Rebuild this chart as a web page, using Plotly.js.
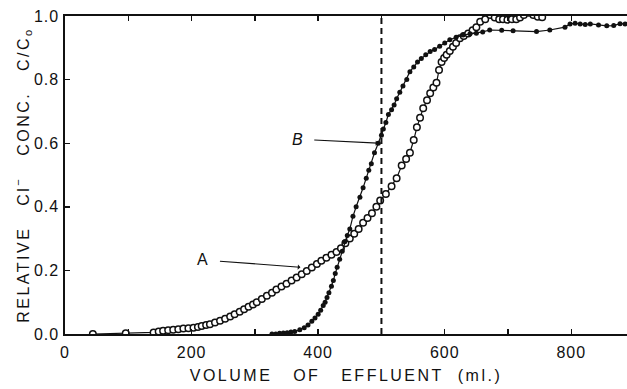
<!DOCTYPE html>
<html>
<head>
<meta charset="utf-8">
<script src="https://cdn.plot.ly/plotly-3.0.1.min.js"></script>
<style>
  html, body { margin: 0; padding: 0; background: #fff; }
  #chart { width: 627px; height: 389px; }
  .xtitle, .ytitle { letter-spacing: 2.5px; }
  .xtick text, .ytick text { letter-spacing: 1px; }
</style>
</head>
<body>
<div id="chart"></div>
<script>
// Breakthrough curves: relative chloride concentration vs. effluent volume
// Curve A (open circles)
const volA = [44, 96, 140, 148, 155, 163, 171, 179, 187, 195, 203, 210, 216, 223, 229, 237, 245, 253,
  261, 268, 276, 283, 290, 297, 303, 311, 319, 327, 334, 342, 350, 358, 366, 374, 382, 390, 398, 405,
  413, 421, 429, 436, 443, 450, 457, 464, 471, 478, 485, 492, 498, 507, 516, 524, 532, 539, 545, 551,
  556, 561, 566, 572, 577, 582, 587, 591, 595, 599, 603, 608, 613, 618, 624, 630, 637, 644, 650, 656,
  664, 672, 679, 686, 692, 699, 706, 713, 719, 725, 733, 740, 747, 754];
const concA = [0.0, 0.002, 0.005, 0.008, 0.01, 0.012, 0.013, 0.015, 0.017, 0.018, 0.02, 0.022, 0.025, 0.028,
  0.031, 0.036, 0.042, 0.048, 0.055, 0.062, 0.07, 0.078, 0.086, 0.093, 0.10, 0.11, 0.12, 0.13, 0.14,
  0.149, 0.158, 0.168, 0.178, 0.188, 0.198, 0.209, 0.22, 0.23, 0.24, 0.249, 0.258, 0.27, 0.285, 0.30,
  0.315, 0.33, 0.35, 0.365, 0.38, 0.40, 0.42, 0.44, 0.465, 0.49, 0.53, 0.55, 0.57, 0.61, 0.65, 0.68,
  0.71, 0.735, 0.757, 0.775, 0.79, 0.83, 0.855, 0.868, 0.878, 0.89, 0.903, 0.915, 0.93, 0.937, 0.945,
  0.955, 0.965, 0.982, 0.99, 1.003, 0.995, 0.99, 0.99, 0.988, 0.99, 0.99, 0.995, 1.003, 1.01, 1.003,
  0.998, 0.996];

// Curve B (filled dots)
const volB = [327, 333, 339, 345, 351, 357, 363, 371, 378, 384, 390, 395, 400, 404, 408, 411, 414, 417,
  421, 424, 427, 430, 434, 438, 442, 446, 450, 455, 460, 466, 471, 476, 480, 484, 489, 495, 500, 503,
  507, 511, 516, 520, 524, 529, 534, 540, 545, 551, 557, 563, 570, 577, 584, 592, 600, 608, 618, 629,
  640, 650, 660, 671, 690, 708, 745, 766, 790, 798, 806, 814, 822, 830, 843, 856, 867, 877, 885];
const concB = [0.0, 0.0, 0.002, 0.003, 0.004, 0.006, 0.008, 0.013, 0.02, 0.028, 0.04, 0.05, 0.062, 0.075,
  0.09, 0.10, 0.115, 0.13, 0.15, 0.168, 0.19, 0.21, 0.235, 0.26, 0.29, 0.31, 0.33, 0.37, 0.40, 0.43,
  0.46, 0.49, 0.515, 0.535, 0.57, 0.60, 0.625, 0.645, 0.665, 0.69, 0.705, 0.72, 0.74, 0.76, 0.78, 0.80,
  0.825, 0.84, 0.855, 0.866, 0.878, 0.888, 0.895, 0.905, 0.915, 0.925, 0.933, 0.94, 0.944, 0.946, 0.95,
  0.956, 0.955, 0.954, 0.951, 0.956, 0.965, 0.975, 0.977, 0.975, 0.973, 0.975, 0.972, 0.969, 0.97,
  0.976, 0.975];

// Axis ticks (labelled every 200 ml, minor marks every 100 ml)
const xTickVals = [0, 200, 400, 600, 800];
const xTickText = ['0', '200', '400', '600', '800'];
const yTickVals = [0, 0.2, 0.4, 0.6, 0.8, 1.0];
const yTickText = ['0.0', '0.2', '0.4', '0.6', '0.8', '1.0'];

// Reference volume marked with a dashed line
const markVolume = 500;

const ink = '#111111';
const font = { family: '"Liberation Sans", Arial, sans-serif', size: 16, color: ink };

const traces = [
  {
    x: volA, y: concA, mode: 'lines+markers', name: 'A',
    line: { color: ink, width: 1.2 },
    marker: { symbol: 'circle', size: 6.5, color: '#ffffff', line: { color: ink, width: 1.5 } }
  },
  {
    x: volB, y: concB, mode: 'lines+markers', name: 'B',
    line: { color: ink, width: 1.2 },
    marker: { symbol: 'circle', size: 5, color: ink }
  }
];

const layout = {
  width: 627, height: 389,
  margin: { l: 65, r: 0, t: 16, b: 55 },
  paper_bgcolor: '#ffffff', plot_bgcolor: '#ffffff',
  showlegend: false,
  font: font,
  xaxis: {
    range: [0, 888], showgrid: false, zeroline: false,
    showline: true, linecolor: ink, linewidth: 1.6, mirror: 'ticks',
    ticks: 'inside', ticklen: 5, tickwidth: 1.4, tickcolor: ink,
    tickvals: xTickVals, ticktext: xTickText, ticklabelstandoff: 3,
    minor: { dtick: 100, tick0: 0, ticks: 'inside', ticklen: 5, tickwidth: 1.4, tickcolor: ink, showgrid: false },
    title: { text: 'VOLUME&nbsp;&nbsp;&nbsp;OF&nbsp;&nbsp;&nbsp;EFFLUENT&nbsp;&nbsp;(ml.)', font: { size: 16 }, standoff: 10 }
  },
  yaxis: {
    range: [0, 1.0], showgrid: false, zeroline: false,
    showline: true, linecolor: ink, linewidth: 1.6, mirror: false,
    ticks: 'inside', ticklen: 5, tickwidth: 1.4, tickcolor: ink,
    tickvals: yTickVals, ticktext: yTickText, ticklabelstandoff: 1,
    title: { text: 'RELATIVE&nbsp;&nbsp;&nbsp;Cl<sup>−</sup>&nbsp;&nbsp;&nbsp;CONC.&nbsp;&nbsp;&nbsp;C/C<sub>o</sub>', font: { size: 16 }, standoff: 0 }
  },
  shapes: [
    {
      type: 'line', xref: 'x', yref: 'y',
      x0: markVolume, x1: markVolume, y0: 0, y1: 1.0,
      line: { color: ink, width: 2, dash: '6px,4px' }
    }
  ],
  annotations: [
    {
      x: 372, y: 0.21, xref: 'x', yref: 'y',
      ax: 218, ay: 0.233, axref: 'x', ayref: 'y',
      text: 'A', showarrow: true, arrowhead: 1, arrowsize: 0.8, arrowwidth: 1.1, arrowcolor: ink,
      standoff: 0, startstandoff: 10, font: { size: 16, color: ink }
    },
    {
      x: 495, y: 0.60, xref: 'x', yref: 'y',
      ax: 367, ay: 0.613, axref: 'x', ayref: 'y',
      text: '<i>B</i>', showarrow: true, arrowhead: 1, arrowsize: 0.8, arrowwidth: 1.1, arrowcolor: ink,
      standoff: 0, startstandoff: 10, font: { size: 16, color: ink }
    }
  ]
};

Plotly.newPlot('chart', traces, layout, { displayModeBar: false, staticPlot: true });
</script>
</body>
</html>
